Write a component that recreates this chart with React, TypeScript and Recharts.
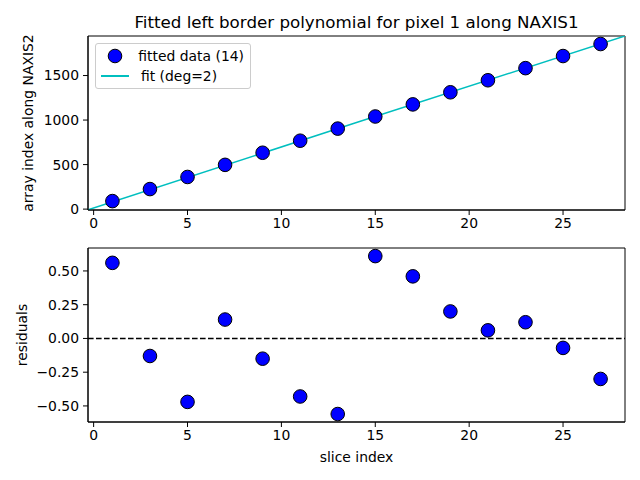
import {
  ComposedChart,
  Scatter,
  Line,
  XAxis,
  YAxis,
  ReferenceLine,
  ReferenceArea,
  Legend,
} from 'recharts';

const slices = [1, 3, 5, 7, 9, 11, 13, 15, 17, 19, 21, 23, 25, 27];
const borderPositions = [90, 225, 361, 497, 633, 768, 904, 1040, 1176, 1312, 1447, 1583, 1719, 1854];
const residuals = [0.56, -0.13, -0.47, 0.14, -0.15, -0.43, -0.56, 0.61, 0.46, 0.2, 0.06, 0.12, -0.07, -0.3];
const fitSlices = [-0.3, 14, 28.3];
const fitPositions = [-8, 972, 1944];

const xTicks = [0, 5, 10, 15, 20, 25];
const topTicks = [0, 500, 1000, 1500];
const residualTicks = [-0.5, -0.25, 0, 0.25, 0.5];

const FONT = '"DejaVu Sans", sans-serif';
const X_DOMAIN: [number, number] = [-0.3, 28.3];
const pointData = slices.map((x, i) => ({ x, y: borderPositions[i] }));
const fitData = fitSlices.map((x, i) => ({ x, y: fitPositions[i] }));
const residualData = slices.map((x, i) => ({ x, y: residuals[i] }));

const tickStyle = { fill: '#000', fontSize: 13.9, fontFamily: FONT };

const Dot = (props: any) => (
  <circle cx={props.cx} cy={props.cy} r={6.8} fill="#0000ff" stroke="#000" strokeWidth={1} />
);

const yLabel = (text: string, cx: number) => (props: any) => {
  const vb = props.viewBox || {};
  const cy = vb.y + vb.height / 2;
  return (
    <text
      x={cx}
      y={cy}
      transform={`rotate(-90 ${cx} ${cy})`}
      textAnchor="middle"
      dominantBaseline="central"
      fontSize={13.9}
      fontFamily={FONT}
      fill="#000"
    >
      {text}
    </text>
  );
};

const xLabel = (props: any) => {
  const vb = props.viewBox || {};
  return (
    <text
      x={vb.x + vb.width / 2}
      y={vb.y + 35}
      textAnchor="middle"
      dominantBaseline="central"
      fontSize={13.9}
      fontFamily={FONT}
      fill="#000"
    >
      slice index
    </text>
  );
};

const LegendBox = () => (
  <div
    style={{
      border: '1px solid #ccc',
      borderRadius: 3,
      background: 'rgba(255,255,255,0.8)',
      padding: '2px 6px 2px 4px',
      fontFamily: FONT,
      fontSize: 13.9,
      lineHeight: '20px',
      width: 156,
      boxSizing: 'border-box',
      whiteSpace: 'nowrap',
    }}
  >
    <div style={{ display: 'flex', alignItems: 'center' }}>
      <svg width={30} height={20}>
        <circle cx={15} cy={10} r={6.8} fill="#0000ff" stroke="#000" strokeWidth={1} />
      </svg>
      <span style={{ marginLeft: 11 }}>fitted data (14)</span>
    </div>
    <div style={{ display: 'flex', alignItems: 'center' }}>
      <svg width={30} height={20}>
        <line x1={1} y1={10} x2={29} y2={10} stroke="#00bfbf" strokeWidth={2} />
      </svg>
      <span style={{ marginLeft: 11 }}>fit (deg=2)</span>
    </div>
  </div>
);

// closed axes box, like matplotlib's four spines
const frame = (yDomain: [number, number]) => (
  <ReferenceArea
    x1={X_DOMAIN[0]}
    x2={X_DOMAIN[1]}
    y1={yDomain[0]}
    y2={yDomain[1]}
    fill="none"
    fillOpacity={0}
    stroke="#000"
    strokeWidth={1}
    ifOverflow="visible"
  />
);

export default function App() {
  const topDomain: [number, number] = [-10, 1944];
  const resDomain: [number, number] = [-0.619, 0.67];
  return (
    <div style={{ position: 'relative', width: 640, height: 480, background: '#fff', margin: -8 }}>
      <div
        style={{
          position: 'absolute',
          top: 12,
          left: 88,
          width: 537,
          textAlign: 'center',
          fontFamily: FONT,
          fontSize: 16.7,
          lineHeight: '20px',
        }}
      >
        Fitted left border polynomial for pixel 1 along NAXIS1
      </div>

      <div style={{ position: 'absolute', top: 0, left: 0 }}>
        <ComposedChart width={640} height={240} margin={{ top: 36, right: 15, bottom: 0, left: 0 }}>
          <XAxis
            dataKey="x"
            type="number"
            domain={X_DOMAIN}
            ticks={xTicks}
            allowDataOverflow
            height={30}
            tickSize={5}
            tickMargin={3}
            tick={tickStyle}
            stroke="#000"
          />
          <YAxis
            dataKey="y"
            type="number"
            domain={topDomain}
            ticks={topTicks}
            allowDataOverflow
            width={88}
            tickSize={5}
            tickMargin={4}
            tick={tickStyle}
            stroke="#000"
            label={{ content: yLabel('array index along NAXIS2', 28) }}
          />
          {frame(topDomain)}
          <Line
            data={fitData}
            dataKey="y"
            stroke="#00bfbf"
            strokeWidth={1.5}
            dot={false}
            type="linear"
            isAnimationActive={false}
          />
          <Scatter data={pointData} shape={<Dot />} isAnimationActive={false} />
          <Legend
            layout="vertical"
            align="center"
            verticalAlign="middle"
            wrapperStyle={{ top: 43, left: 95, width: 'auto' }}
            content={<LegendBox />}
          />
        </ComposedChart>
      </div>

      <div style={{ position: 'absolute', top: 240, left: 0 }}>
        <ComposedChart width={640} height={240} margin={{ top: 8, right: 15, bottom: 0, left: 0 }}>
          <XAxis
            dataKey="x"
            type="number"
            domain={X_DOMAIN}
            ticks={xTicks}
            allowDataOverflow
            height={58}
            tickSize={5}
            tickMargin={3}
            tick={tickStyle}
            stroke="#000"
            label={{ content: xLabel }}
          />
          <YAxis
            dataKey="y"
            type="number"
            domain={resDomain}
            ticks={residualTicks}
            allowDataOverflow
            width={88}
            tickSize={5}
            tickMargin={4}
            tick={tickStyle}
            stroke="#000"
            tickFormatter={(v: number) => (v < 0 ? '\u2212' : '') + Math.abs(v).toFixed(2)}
            label={{ content: yLabel('residuals', 22) }}
          />
          {frame(resDomain)}
          <ReferenceLine y={0} stroke="#000" strokeWidth={1.5} strokeDasharray="5.6 2.4" />
          <Scatter data={residualData} shape={<Dot />} isAnimationActive={false} />
        </ComposedChart>
      </div>
    </div>
  );
}
